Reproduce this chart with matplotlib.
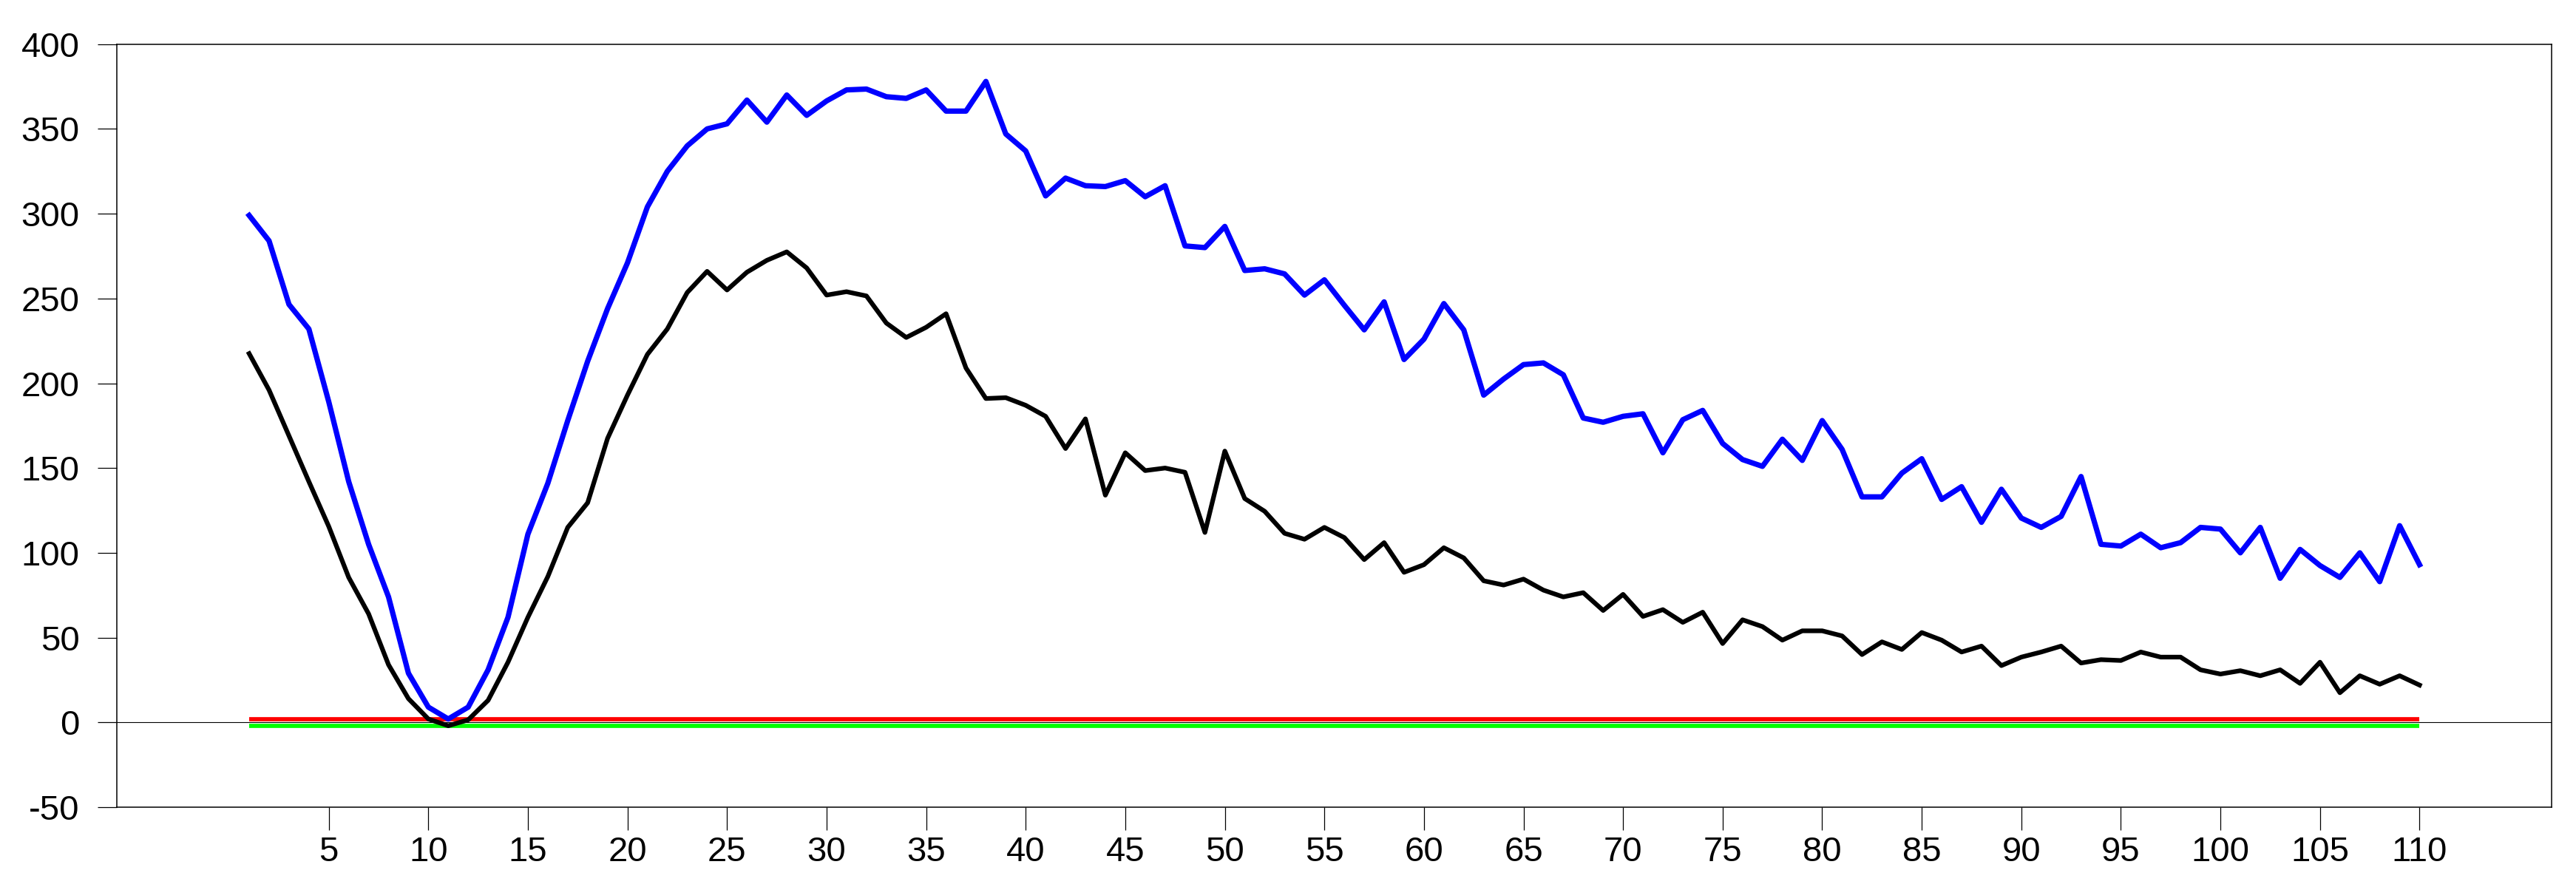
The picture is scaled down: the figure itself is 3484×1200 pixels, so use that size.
import matplotlib
matplotlib.use("Agg")
import matplotlib.pyplot as plt
import numpy as np

periods = list(range(1, 111))

blue_series = [299, 284, 246.5, 232, 189, 142, 105, 74, 29, 9,
               2, 9, 31, 62, 111, 141, 178, 213, 244, 271,
               304, 325, 340, 350, 353, 367, 354, 370, 358, 366.5,
               373, 373.5, 369, 368, 373, 360.5, 360.5, 378, 347, 337,
               310.5, 321, 316.5, 316, 319.5, 310, 316.5, 281, 280, 292.5,
               266.5, 267.5, 264.5, 252, 261, 246, 231.5, 248, 214, 226,
               247, 231.5, 193, 202.5, 211, 212, 205, 179.5, 177, 180.5,
               182, 159, 178.5, 184, 164.5, 155, 151, 167, 154.5, 178,
               161, 133, 133, 147, 155.5, 131.5, 139, 118, 137.5, 120.5,
               115, 121.5, 145, 105, 104, 111, 103, 106, 115, 114,
               100, 115, 85, 102, 92.5, 85.5, 100, 83, 116, 93]

black_series = [217.5, 196, 169, 142, 115.5, 85.5, 64, 34, 14, 2,
                -2, 1.5, 13, 35.5, 62, 86, 115, 129.5, 167.5, 193,
                217, 232, 253.5, 266, 255, 265.5, 272.5, 277.5, 268, 252,
                254, 251.5, 235.5, 227, 233, 241, 209, 191, 191.5, 187,
                180.5, 161.5, 179, 134, 159, 148.5, 150, 147.5, 112, 160,
                132, 124.5, 111.5, 108, 115, 109, 96, 106, 88.5, 93,
                103, 97, 83.5, 81, 84.5, 78, 74, 76.5, 66, 75.5,
                62.5, 66.5, 59, 65, 46.5, 60.5, 56.5, 48.5, 54, 54,
                51, 40, 47.5, 43, 53, 48.5, 41.5, 45, 33.5, 38.5,
                41.5, 45, 35, 37, 36.5, 41.5, 38.5, 38.5, 31, 28.5,
                30.5, 27.5, 31, 23, 35.5, 17.5, 27.5, 22.5, 27.5, 22]

upper_band = [2.0] * len(periods)
lower_band = [-2.0] * len(periods)

x_ticks = list(range(5, 111, 5))
y_ticks = list(range(-50, 401, 50))

plt.rcParams['font.family'] = ['Liberation Sans', 'DejaVu Sans']

fig = plt.figure(figsize=(34.84, 12), dpi=100)
ax = fig.add_axes([0.04547, 0.09, 0.99067 - 0.04547, 0.95025 - 0.09])

ax.axhline(0, color='black', lw=0.8, zorder=1)
ax.plot(periods, upper_band, color='#ff0000', lw=4.1, solid_capstyle='butt', zorder=2)
ax.plot(periods, lower_band, color='#00ff00', lw=4.1, solid_capstyle='butt', zorder=2)
ax.plot(periods, black_series, color='black', lw=4.5, zorder=3)
ax.plot(periods, blue_series, color='#0000ff', lw=5.2, zorder=4)

ax.set_xlim(-5.63, 116.65)
ax.set_ylim(-50, 400)
ax.set_xticks(x_ticks)
ax.set_yticks(y_ticks)
ax.set_xticklabels([str(v) for v in x_ticks])
ax.set_yticklabels([str(v) for v in y_ticks])

for s in ax.spines.values():
    s.set_linewidth(1.1)
    s.set_color('black')

ax.tick_params(axis='y', direction='out', length=18.7, width=0.9, pad=18, labelsize=34, colors='black')
ax.tick_params(axis='x', direction='out', length=22.3, width=0.9, pad=5.5, labelsize=34, colors='black')

fig.savefig('out.png', dpi=100, facecolor='white')
